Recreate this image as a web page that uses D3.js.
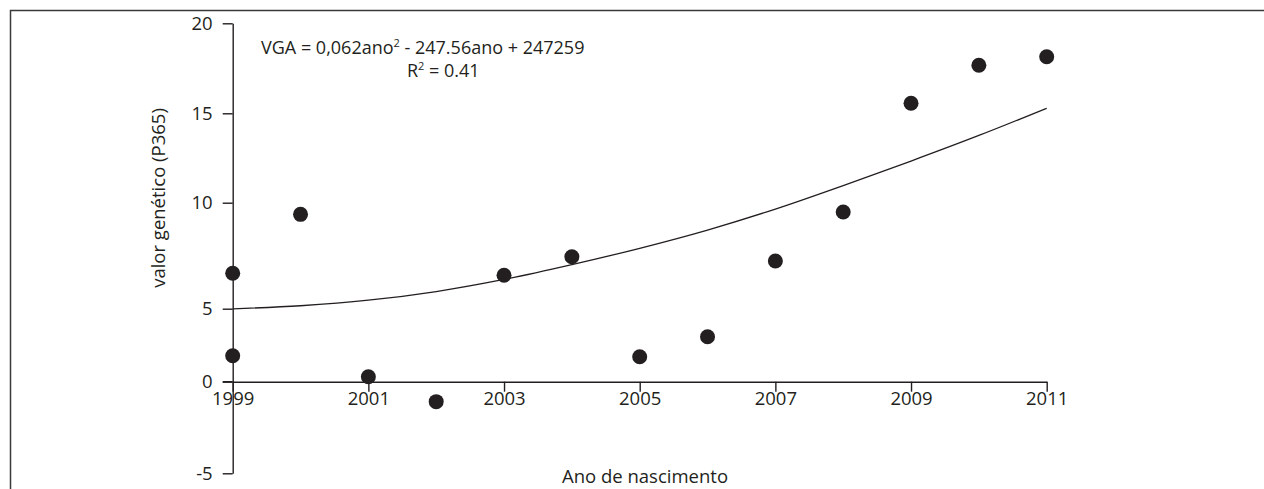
<!DOCTYPE html>
<html>
<head>
<meta charset="utf-8">
<script src="https://cdn.jsdelivr.net/npm/d3@7"></script>
<style>
  html, body { margin: 0; padding: 0; background: #fff; }
  svg { display: block; }
  text { font-family: "Open Sans", "Noto Sans", sans-serif; fill: #231f20; }
</style>
</head>
<body>
<svg id="chart" width="1264" height="489"></svg>
<script>
// Birth year of each animal group and its genetic value (P365)
const years = [1999, 1999, 2000, 2001, 2002, 2003, 2004, 2005, 2006, 2007, 2008, 2009, 2010, 2011];
const values = [6.67, 1.78, 9.45, 0.34, -1.09, 6.58, 7.45, 1.71, 3.08, 7.25, 9.56, 15.56, 17.67, 18.14];

// Quadratic trend evaluated at each birth year
const trendYears = [1999, 2000, 2001, 2002, 2003, 2004, 2005, 2006, 2007, 2008, 2009, 2010, 2011];
const trendValues = [4.99, 5.14, 5.40, 5.81, 6.38, 7.08, 7.85, 8.71, 9.70, 10.96, 12.33, 13.76, 15.28];

// Axis ticks
const xTicks = [1999, 2001, 2003, 2005, 2007, 2009, 2011];
const yTicks = [-5, 0, 5, 10, 15, 20];

const equationText = ["VGA = 0,062ano", "2", " - 247.56ano + 247259"];
const r2Text = ["R", "2", " = 0.41"];
const xTitle = "Ano de nascimento";
const yTitle = "valor genético (P365)";

const svg = d3.select("#chart");
const ink = "#231f20";
const fontSize = 18.5;

// Outer frame
svg.append("rect")
  .attr("x", 10.5).attr("y", 10.5)
  .attr("width", 1400).attr("height", 700)
  .attr("fill", "none").attr("stroke", "#3a3a3a").attr("stroke-width", 1.5);

const x = d3.scaleLinear().domain([1999, 2011]).range([232.7, 1046.7]);
// piecewise value axis, one segment per labelled interval
const y = d3.scaleLinear()
  .domain([-5, 0, 5, 10, 15, 20])
  .range([473.3, 381.7, 308.7, 202.7, 113.3, 23.3]);

// Y axis
svg.append("g")
  .attr("transform", `translate(${x(1999)},0)`)
  .call(d3.axisLeft(y).tickValues(yTicks).tickFormat(d => String(d))
      .tickSize(10).tickPadding(10).tickSizeOuter(0))
  .call(g => g.select(".domain").attr("stroke", ink).attr("stroke-width", 1.4))
  .call(g => g.selectAll(".tick line").attr("stroke", ink).attr("stroke-width", 1.4))
  .call(g => g.selectAll(".tick text")
      .attr("font-size", fontSize).attr("font-family", "'Open Sans', sans-serif")
      .attr("fill", ink));

// X axis along the zero line
svg.append("g")
  .attr("transform", `translate(0,${y(0)})`)
  .call(d3.axisBottom(x).tickValues(xTicks).tickFormat(d3.format("d"))
      .tickSize(10).tickPadding(0).tickSizeOuter(0))
  .call(g => g.select(".domain").attr("stroke", ink).attr("stroke-width", 1.4))
  .call(g => g.selectAll(".tick line").attr("stroke", ink).attr("stroke-width", 1.4))
  .call(g => g.selectAll(".tick text")
      .attr("font-size", fontSize).attr("font-family", "'Open Sans', sans-serif")
      .attr("fill", ink).attr("dy", "0.72em"));

// extend zero line to the left of the value axis
svg.append("line")
  .attr("x1", x(1999) - 10).attr("x2", x(1999))
  .attr("y1", y(0)).attr("y2", y(0))
  .attr("stroke", ink).attr("stroke-width", 1.4);

// Trend curve
const line = d3.line()
  .x((d, i) => x(trendYears[i]))
  .y(d => y(d))
  .curve(d3.curveMonotoneX);
svg.append("path")
  .attr("d", line(trendValues))
  .attr("fill", "none").attr("stroke", ink).attr("stroke-width", 1.3);

// Observed points
svg.append("g").selectAll("circle")
  .data(values)
  .join("circle")
  .attr("cx", (d, i) => x(years[i]))
  .attr("cy", d => y(d))
  .attr("r", 7.5)
  .attr("fill", ink);

// Regression equation
function superscriptLine(parts, xPos, yPos) {
  const t = svg.append("text")
    .attr("x", xPos).attr("y", yPos)
    .attr("font-size", 18);
  t.append("tspan").text(parts[0]);
  t.append("tspan").attr("dy", -7).attr("font-size", 11).text(parts[1]);
  t.append("tspan").attr("dy", 7).text(parts[2]);
  return t;
}
superscriptLine(equationText, 261, 54);
superscriptLine(r2Text, 407, 77);

// Axis titles
svg.append("text")
  .attr("x", 645).attr("y", 483)
  .attr("text-anchor", "middle")
  .attr("font-size", fontSize)
  .text(xTitle);

svg.append("text")
  .attr("transform", "translate(165,198) rotate(-90)")
  .attr("text-anchor", "middle")
  .attr("font-size", fontSize)
  .text(yTitle);
</script>
</body>
</html>
